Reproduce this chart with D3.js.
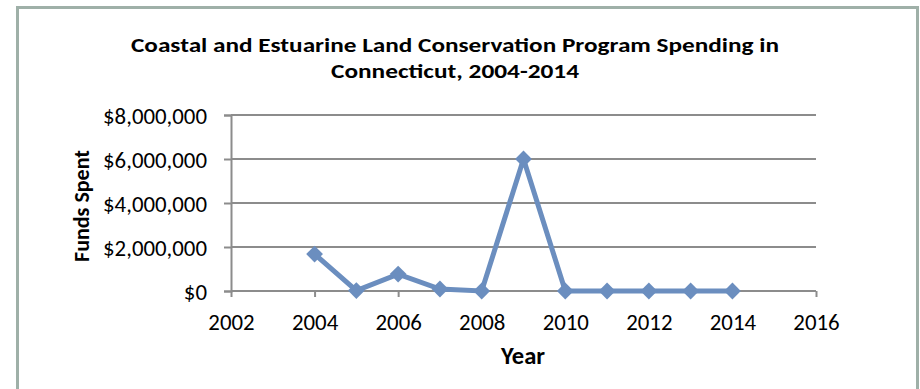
<!DOCTYPE html>
<html><head><meta charset="utf-8">
<script src="https://cdn.jsdelivr.net/npm/d3@7"></script>
<style>body{margin:0;background:#fff}svg{display:block}</style>
</head><body><svg id="c" width="920" height="389"></svg>
<script>
const years = [2004,2005,2006,2007,2008,2009,2010,2011,2012,2013,2014];
const funds = [1680000,20000,770000,90000,0,6000000,0,0,0,0,0];
const yTicks = [0,2000000,4000000,6000000,8000000];
const xTicks = [2002,2004,2006,2008,2010,2012,2014,2016];
const titleLines = ["Coastal and Estuarine Land Conservation Program Spending in","Connecticut, 2004-2014"];

const svg = d3.select("#c");
const font = "Carlito, Lato, 'Open Sans', sans-serif";
function fitSize(txt, bold, target){
  const t = svg.append("text").style("font-family",font).style("font-size","20px")
    .style("font-weight",bold?"bold":"normal").text(txt);
  const w = t.node().getComputedTextLength(); t.remove();
  return 20*target/w;
}
const tickSize = fitSize("$8,000,000", false, 104);
const yearSize = fitSize("Year", true, 44);
const fundsSize = fitSize("Funds Spent", true, 112);

svg.append("path").attr("d","M17.5,400 V7.5 H917.5 V400").attr("fill","none").attr("stroke","#9fb0a8").attr("stroke-width",3);

const x = d3.scaleLinear().domain([2002,2016]).range([231,816]);
const y = d3.scaleLinear().domain([0,8000000]).range([291,115]);

svg.append("g").selectAll("line").data(yTicks.slice(1)).join("line")
  .attr("x1",231).attr("x2",816).attr("y1",d=>y(d)).attr("y2",d=>y(d))
  .attr("stroke","#8c8c8c").attr("stroke-width",2);

const fmt = d => "$" + d3.format(",")(d);
const gy = svg.append("g").attr("transform","translate(231,0)")
  .call(d3.axisLeft(y).tickValues(yTicks).tickFormat(fmt).tickSize(7).tickPadding(17));
const gx = svg.append("g").attr("transform","translate(0,291)")
  .call(d3.axisBottom(x).tickValues(xTicks).tickFormat(d3.format("d")).tickSize(6).tickPadding(17));
[gy,gx].forEach(g=>{
  g.attr("font-family",null).attr("font-size",null);
  g.select(".domain").attr("stroke","#8c8c8c").attr("stroke-width",2);
  g.selectAll(".tick line").attr("stroke","#8c8c8c").attr("stroke-width",2);
  g.selectAll("text").style("font-family",font).style("font-size",tickSize+"px").attr("fill","#000");
});
gy.selectAll(".tick text").attr("dy","0.35em");
gx.select(".domain").attr("d","M231,0H816");

const line = d3.line().x((d,i)=>x(years[i])).y(d=>y(d));
svg.append("path").datum(funds).attr("d",line).attr("fill","none")
  .attr("stroke","#6b8ebf").attr("stroke-width",5).attr("stroke-linejoin","miter");
svg.append("g").selectAll("path").data(funds).join("path")
  .attr("d",d3.symbol(d3.symbolDiamond2 || d3.symbolDiamond,180)())
  .attr("transform",(d,i)=>`translate(${x(years[i])},${y(d)})`)
  .attr("fill","#6b8ebf");

svg.append("g").selectAll("text").data(titleLines).join("text")
  .attr("x",455).attr("y",(d,i)=>52+i*26).attr("text-anchor","middle")
  .style("font-family",font).style("font-weight","bold").style("font-size","20px")
  .attr("textLength",(d,i)=>i===0?648:248).attr("lengthAdjust","spacingAndGlyphs")
  .text(d=>d);
svg.append("text").attr("x",523).attr("y",364).attr("text-anchor","middle")
  .style("font-family",font).style("font-weight","bold").style("font-size",yearSize+"px").text("Year");
svg.append("text").attr("transform","translate(89,206) rotate(-90)").attr("text-anchor","middle")
  .style("font-family",font).style("font-weight","bold").style("font-size",fundsSize+"px").text("Funds Spent");
</script></body></html>
